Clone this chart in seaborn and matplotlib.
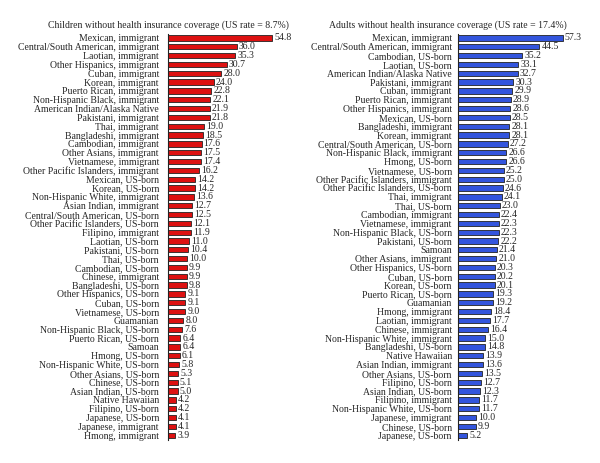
import numpy as np
import pandas as pd
import seaborn as sns
import matplotlib.pyplot as plt
from matplotlib.ticker import FixedLocator

child_groups = [
    'Mexican, immigrant', 'Central/South American, immigrant', 'Laotian, immigrant',
    'Other Hispanics, immigrant', 'Cuban, immigrant', 'Korean, immigrant',
    'Puerto Rican, immigrant', 'Non-Hispanic Black, immigrant', 'American Indian/Alaska Native',
    'Pakistani, immigrant', 'Thai, immigrant', 'Bangladeshi, immigrant',
    'Cambodian, immigrant', 'Other Asians, immigrant', 'Vietnamese, immigrant',
    'Other Pacific Islanders, immigrant', 'Mexican, US-born', 'Korean, US-born',
    'Non-Hispanic White, immigrant', 'Asian Indian, immigrant', 'Central/South American, US-born',
    'Other Pacific Islanders, US-born', 'Filipino, immigrant', 'Laotian, US-born',
    'Pakistani, US-born', 'Thai, US-born', 'Cambodian, US-born',
    'Chinese, immigrant', 'Bangladeshi, US-born', 'Other Hispanics, US-born',
    'Cuban, US-born', 'Vietnamese, US-born', 'Guamanian',
    'Non-Hispanic Black, US-born', 'Puerto Rican, US-born', 'Samoan',
    'Hmong, US-born', 'Non-Hispanic White, US-born', 'Other Asians, US-born',
    'Chinese, US-born', 'Asian Indian, US-born', 'Native Hawaiian',
    'Filipino, US-born', 'Japanese, US-born', 'Japanese, immigrant',
    'Hmong, immigrant',
]
child_rates = [
    54.8, 36.0, 35.3, 30.7, 28.0, 24.0, 22.8, 22.1, 21.9, 21.8,
    19.0, 18.5, 17.6, 17.5, 17.4, 16.2, 14.2, 14.2, 13.6, 12.7,
    12.5, 12.1, 11.9, 11.0, 10.4, 10.0, 9.9, 9.9, 9.8, 9.1,
    9.1, 9.0, 8.0, 7.6, 6.4, 6.4, 6.1, 5.8, 5.3, 5.1,
    5.0, 4.2, 4.2, 4.1, 4.1, 3.9,
]

adult_groups = [
    'Mexican, immigrant', 'Central/South American, immigrant', 'Cambodian, US-born',
    'Laotian, US-born', 'American Indian/Alaska Native', 'Pakistani, immigrant',
    'Cuban, immigrant', 'Puerto Rican, immigrant', 'Other Hispanics, immigrant',
    'Mexican, US-born', 'Bangladeshi, immigrant', 'Korean, immigrant',
    'Central/South American, US-born', 'Non-Hispanic Black, immigrant', 'Hmong, US-born',
    'Vietnamese, US-born', 'Other Pacific Islanders, immigrant', 'Other Pacific Islanders, US-born',
    'Thai, immigrant', 'Thai, US-born', 'Cambodian, immigrant',
    'Vietnamese, immigrant', 'Non-Hispanic Black, US-born', 'Pakistani, US-born',
    'Samoan', 'Other Asians, immigrant', 'Other Hispanics, US-born',
    'Cuban, US-born', 'Korean, US-born', 'Puerto Rican, US-born',
    'Guamanian', 'Hmong, immigrant', 'Laotian, immigrant',
    'Chinese, immigrant', 'Non-Hispanic White, immigrant', 'Bangladeshi, US-born',
    'Native Hawaiian', 'Asian Indian, immigrant', 'Other Asians, US-born',
    'Filipino, US-born', 'Asian Indian, US-born', 'Filipino, immigrant',
    'Non-Hispanic White, US-born', 'Japanese, immigrant', 'Chinese, US-born',
    'Japanese, US-born',
]
adult_rates = [
    57.3, 44.5, 35.2, 33.1, 32.7, 30.3, 29.9, 28.9, 28.6, 28.5,
    28.1, 28.1, 27.2, 26.6, 26.6, 25.2, 25.0, 24.6, 24.1, 23.0,
    22.4, 22.3, 22.3, 22.2, 21.4, 21.0, 20.3, 20.2, 20.1, 19.3,
    19.2, 18.4, 17.7, 16.4, 15.0, 14.8, 13.9, 13.6, 13.5, 12.7,
    12.3, 11.7, 11.7, 10.0, 9.9, 5.2,
]

sns.set_style('white')
plt.rcParams['font.family'] = ['Liberation Serif', 'DejaVu Serif']
FS = 7.0

fig = plt.figure(figsize=(6, 4.63), dpi=100)
ax_l = fig.add_axes([0.28, 0.0505, 0.197, 0.877])
ax_r = fig.add_axes([0.763, 0.0505, 0.189, 0.877])


def panel(ax, groups, rates, color, pad):
    df = pd.DataFrame({'group': groups, 'rate': rates})
    sns.barplot(data=df, x='rate', y='group', orient='h', color=color,
                width=0.6, edgecolor='#222222', linewidth=0.6, saturation=1, ax=ax)
    for c in ax.containers:
        ax.bar_label(c, fmt='%.1f', padding=1.5, fontsize=FS)
    ax.set_xlim(0, 62)
    ax.set_ylim(len(groups) - 0.5, -0.5)
    ax.set_xlabel('')
    ax.set_ylabel('')
    ax.set_xticks([])
    for s in ['top', 'right', 'bottom']:
        ax.spines[s].set_visible(False)
    ax.spines['left'].set_linewidth(0.8)
    ax.spines['left'].set_color('#222222')
    ax.tick_params(axis='y', length=0, pad=pad, labelsize=FS)
    ax.yaxis.set_minor_locator(FixedLocator(np.arange(-0.5, len(groups), 1)))
    ax.tick_params(axis='y', which='minor', length=2, width=0.6, direction='out', color='#222222')


panel(ax_l, child_groups, child_rates, '#dd1111', 6.5)
panel(ax_r, adult_groups, adult_rates, '#3355dd', 4.3)

fig.text(0.281, 0.946, 'Children without health insurance coverage (US rate = 8.7%)',
         ha='center', va='center', fontsize=FS)
fig.text(0.747, 0.946, 'Adults without health insurance coverage (US rate = 17.4%)',
         ha='center', va='center', fontsize=FS)

fig.savefig('out.png', dpi=100)
